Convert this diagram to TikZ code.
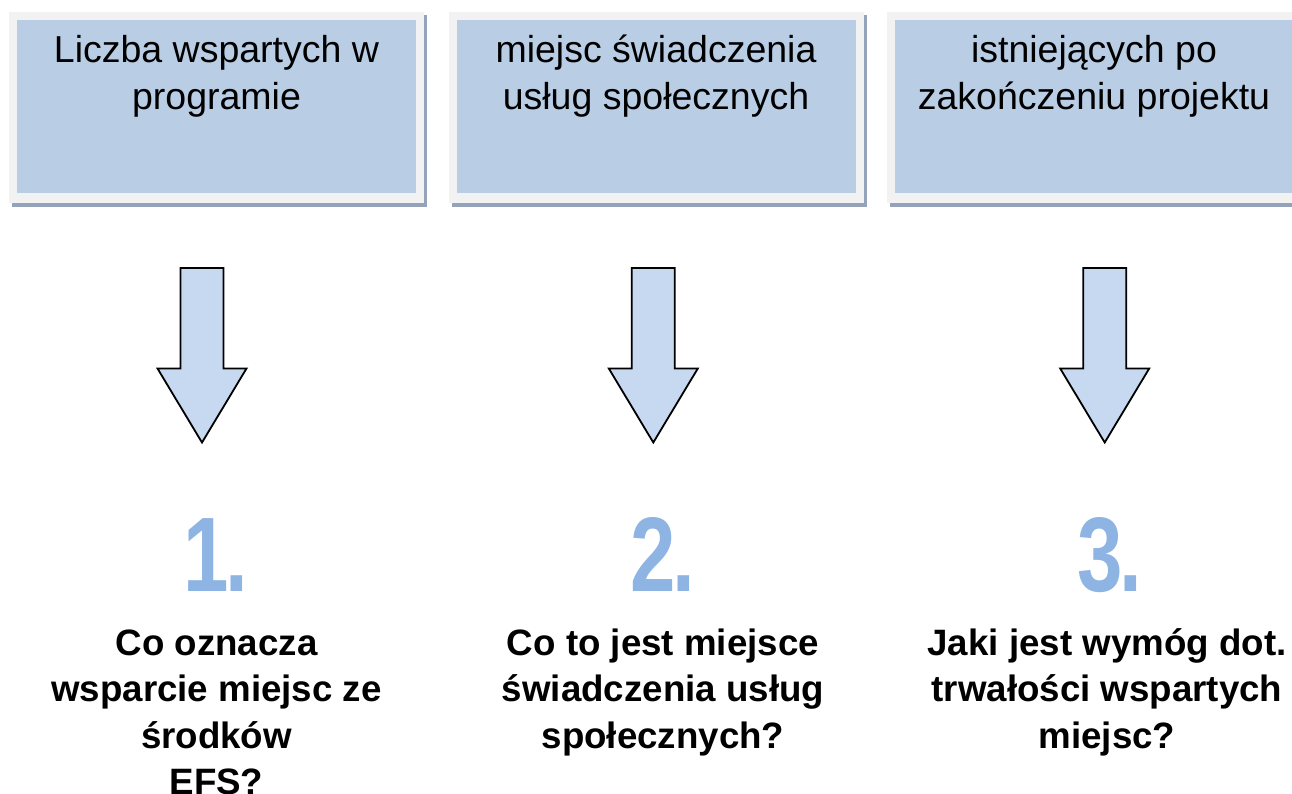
\documentclass[tikz,border=0pt]{standalone}
\usepackage{fontspec}
\setmainfont{Liberation Sans}
\definecolor{boxblue}{HTML}{B9CDE5}
\definecolor{framegray}{HTML}{F2F2F2}
\definecolor{shadowblue}{HTML}{94A3BA}
\definecolor{arrowblue}{HTML}{C6D9F1}
\definecolor{numblue}{HTML}{8EB4E3}
\tikzset{
  innerbox/.style={fill=boxblue, draw=none, minimum width=399pt, minimum height=173pt, inner sep=0pt, outer sep=0pt},
  boxtext/.style={align=center, inner sep=0pt, font=\fontsize{37.5}{47}\selectfont},
  downarrow/.style={fill=arrowblue, draw=black, line width=1.8pt, line join=miter},
  numtext/.style={inner sep=0pt, text=numblue, font=\fontsize{106}{106}\selectfont\bfseries, xscale=0.77},
  questext/.style={align=center, inner sep=0pt, font=\fontsize{36.7}{46.5}\selectfont\bfseries}
}
\begin{document}
\begin{tikzpicture}[x=1pt,y=-1pt]
\useasboundingbox (0,0) rectangle (1292,794);
\clip (0,0) rectangle (1292,794);
% boxes
\foreach \bx/\nm in {9/b1, 449/b2, 887/b3}{
  \fill[shadowblue] (\bx+3,15) rectangle (\bx+418,207);
  \fill[framegray] (\bx,12) rectangle (\bx+415,203);
  \node[innerbox] (\nm) at (\bx+207.5,106.5) {};
}
% box texts (base = baseline of last line)
\node[boxtext, anchor=base] (t1) at (216.5,110) {Liczba wspartych w\\programie};
\node[boxtext, anchor=base] (t2) at (656,110) {miejsc świadczenia\\usług społecznych};
\node[boxtext, anchor=base] (t3) at (1094,110) {istniejących po\\zakończeniu projektu};
% arrows
\foreach \c/\nm in {202/a1, 653.3/a2, 1104.7/a3}{
  \draw[downarrow] (\c-21.5,268) -- (\c+21.5,268) -- (\c+21.5,368.5) -- (\c+44.5,368.5)
     -- (\c,442.5) -- (\c-44.5,368.5) -- (\c-21.5,368.5) -- cycle;
  \coordinate (\nm) at (\c,442.5);
}
% numbers
\node[numtext, anchor=base] (n1) at (216,591) {1\kern-4pt.};
\node[numtext, anchor=base] (n2) at (663,591) {2\kern-4pt.};
\node[numtext, anchor=base] (n3) at (1109.5,591) {3\kern-4pt.};
% questions (base = baseline of last line)
\node[questext, anchor=base] (q1) at (216.5,794.5) {Co oznacza\\wsparcie miejsc ze\\środków\\EFS?};
\node[questext, anchor=base] (q2) at (663,748) {Co to jest miejsce\\świadczenia usług\\społecznych?};
\node[questext, anchor=base] (q3) at (1107,748) {Jaki jest wymóg dot.\\trwałości wspartych\\miejsc?};
\end{tikzpicture}
\end{document}
